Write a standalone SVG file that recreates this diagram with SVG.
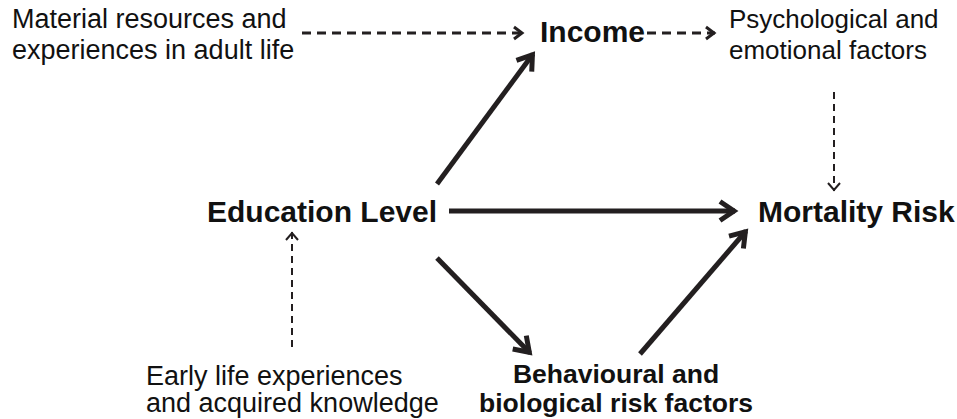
<svg xmlns="http://www.w3.org/2000/svg" width="957" height="419" viewBox="0 0 957 419">
<style>
.reg{font-family:"Liberation Sans",Arial,sans-serif;font-size:27px;fill:#111}
.psy{font-family:"Liberation Sans",Arial,sans-serif;font-size:26px;fill:#111}
.bold{font-family:"Liberation Sans",Arial,sans-serif;font-size:30px;font-weight:bold;fill:#111}
.bsm{font-family:"Liberation Sans",Arial,sans-serif;font-size:26.5px;font-weight:bold;fill:#111}
.solid{stroke:#231f20;stroke-width:5;fill:none}
.dash{stroke:#231f20;stroke-width:3;stroke-dasharray:9 6;fill:none}
.dot{stroke:#231f20;stroke-width:2;stroke-dasharray:7 5;fill:none}
</style>
<defs>
<marker id="hs" markerUnits="userSpaceOnUse" viewBox="-20 -12 24 24" refX="0" refY="0" markerWidth="24" markerHeight="24" orient="auto">
<path d="M-15,-9.5 L-1,0 L-15,9.5" fill="none" stroke="#231f20" stroke-width="5" stroke-linejoin="miter"/>
</marker>
<marker id="hd" markerUnits="userSpaceOnUse" viewBox="-20 -12 24 24" refX="0" refY="0" markerWidth="24" markerHeight="24" orient="auto">
<path d="M-9,-6 L-1,0 L-9,6" fill="none" stroke="#231f20" stroke-width="3"/>
</marker>
<marker id="ht" markerUnits="userSpaceOnUse" viewBox="-20 -12 24 24" refX="0" refY="0" markerWidth="24" markerHeight="24" orient="auto">
<path d="M-8,-6 L-1,0 L-8,6" fill="none" stroke="#231f20" stroke-width="2"/>
</marker>
</defs>
<g id="connectors">
<line class="dash" x1="302" y1="33" x2="523" y2="33" marker-end="url(#hd)"/>
<line class="dash" x1="647" y1="33" x2="715" y2="33" marker-end="url(#hd)"/>
<line class="dot" x1="834" y1="92" x2="834" y2="191" marker-end="url(#ht)"/>
<line class="dot" x1="292" y1="347" x2="292" y2="232" marker-end="url(#ht)"/>
<line class="solid" x1="437" y1="184" x2="533" y2="54" marker-end="url(#hs)"/>
<line class="solid" x1="449" y1="211" x2="735" y2="211" marker-end="url(#hs)"/>
<line class="solid" x1="437" y1="258" x2="530" y2="353" marker-end="url(#hs)"/>
<line class="solid" x1="640" y1="354" x2="746" y2="231" marker-end="url(#hs)"/>
</g>
<g id="material"><text class="reg" x="12" y="28">Material resources and</text><text class="reg" x="12" y="59">experiences in adult life</text></g>
<g id="income"><text class="bold" x="540" y="42">Income</text></g>
<g id="psych"><text class="psy" x="729" y="28">Psychological and</text><text class="psy" x="729" y="59">emotional factors</text></g>
<g id="education"><text class="bold" x="207" y="222">Education Level</text></g>
<g id="mortality"><text class="bold" x="758" y="222">Mortality Risk</text></g>
<g id="early"><text class="reg" x="146" y="385">Early life experiences</text><text class="reg" x="146" y="412">and acquired knowledge</text></g>
<g id="behavioural"><text class="bsm" x="616" y="383" text-anchor="middle">Behavioural and</text><text class="bsm" x="616" y="412" text-anchor="middle">biological risk factors</text></g>
</svg>
